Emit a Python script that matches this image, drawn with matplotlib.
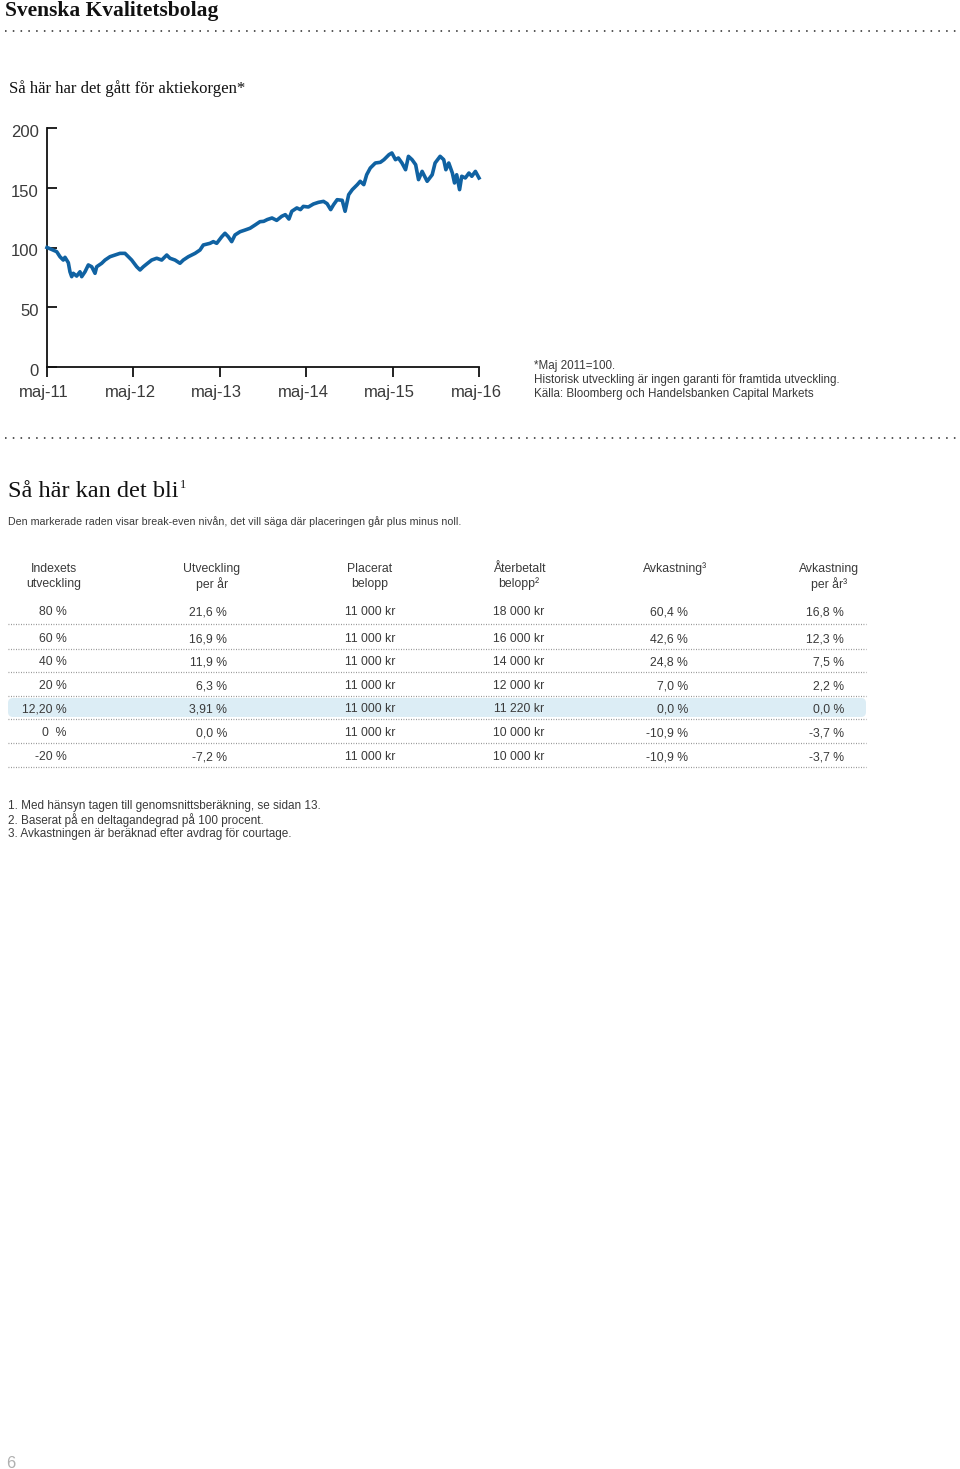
import matplotlib
matplotlib.use("Agg")
import matplotlib.pyplot as plt
from matplotlib.lines import Line2D
from matplotlib.patches import FancyBboxPatch
from matplotlib.transforms import ScaledTranslation

# ---------------- data ----------------
months = [0, 0.6, 1.35, 1.8, 2.26, 2.5, 2.96, 3.19, 3.43, 3.65, 4.12, 4.58, 4.82, 5.28, 5.74,
          6.21, 6.67, 6.9, 7.6, 8.06, 8.75, 9.44, 10.14, 10.83, 11.3, 11.76, 12.46, 12.92,
          13.38, 13.85, 14.54, 15.24, 15.93, 16.63, 17.08, 17.78, 18.47, 18.93, 19.63, 20.56,
          21.25, 21.71, 22.64, 23.1, 23.57, 24.27, 24.72, 25.18, 25.65, 26.11, 26.81, 27.5,
          28.2, 28.89, 29.58, 30.1, 30.6, 31.25, 31.9, 32.6, 33.1, 33.6, 34.0, 34.7, 35.2,
          35.6, 36.3, 37.0, 37.7, 38.4, 38.9, 39.4, 39.8, 40.3, 41.0, 41.4, 41.9, 42.4, 43.1,
          43.5, 44.0, 44.4, 44.9, 45.6, 46.3, 46.8, 47.5, 47.9, 48.4, 48.8, 49.3, 49.8, 50.2,
          50.7, 51.2, 51.6, 52.1, 52.8, 53.5, 53.9, 54.6, 55.1, 55.4, 55.8, 56.3, 56.6, 56.9,
          57.3, 57.6, 58.1, 58.6, 59.0, 59.5, 60.0]
index_values = [100, 98.5, 96.5, 92.3, 89.5, 91.8, 87.3, 79.7, 75.6, 78.4, 76.1, 79.7, 75.6, 79.7,
                85.4, 83.9, 78.4, 83.9, 86.8, 89.5, 92.3, 93.7, 95.1, 95.1, 92.3, 89.5, 83.9,
                81.2, 83.9, 86.2, 89.5, 91.0, 89.5, 93.7, 91.0, 89.5, 86.8, 89.5, 92.3, 95.1,
                97.9, 102.1, 103.5, 104.9, 103.5, 109.0, 111.9, 109.0, 104.9, 110.5, 113.2,
                114.6, 116.1, 118.8, 121.6, 121.9, 123.4, 124.7, 122.7, 126.1, 127.5, 123.8,
                130.3, 133.1, 131.7, 134.4, 133.9, 136.4, 137.8, 138.6, 136.7, 131.7, 135.8,
                140.0, 139.5, 130.3, 144.2, 148.4, 152.6, 155.4, 152.6, 160.9, 166.5, 170.7,
                171.3, 173.5, 177.7, 179.1, 173.5, 174.9, 170.7, 165.1, 176.3, 173.5, 169.3,
                156.8, 163.7, 155.4, 160.9, 170.7, 176.3, 173.5, 165.1, 170.7, 162.3, 154.0,
                160.9, 148.4, 159.6, 158.2, 162.3, 159.6, 163.7, 158.2]

x_tick_pos = [0, 12, 24, 36, 48, 60]
x_tick_labels = ["maj-11", "maj-12", "maj-13", "maj-14", "maj-15", "maj-16"]
y_ticks = [0, 50, 100, 150, 200]

col_headers = [["Indexets", "utveckling"], ["Utveckling", "per år"], ["Placerat", "belopp"],
               ["Återbetalt", "belopp²"], ["Avkastning³", ""], ["Avkastning", "per år³"]]
indexets = ["80 %", "60 %", "40 %", "20 %", "12,20 %", "0  %", "-20 %"]
utv_per_ar = ["21,6 %", "16,9 %", "11,9 %", "6,3 %", "3,91 %", "0,0 %", "-7,2 %"]
placerat = ["11 000 kr", "11 000 kr", "11 000 kr", "11 000 kr", "11 000 kr", "11 000 kr", "11 000 kr"]
aterbetalt = ["18 000 kr", "16 000 kr", "14 000 kr", "12 000 kr", "11 220 kr", "10 000 kr", "10 000 kr"]
avkastning = ["60,4 %", "42,6 %", "24,8 %", "7,0 %", "0,0 %", "-10,9 %", "-10,9 %"]
avk_per_ar = ["16,8 %", "12,3 %", "7,5 %", "2,2 %", "0,0 %", "-3,7 %", "-3,7 %"]
highlight_row = 4

footnotes = ["1. Med hänsyn tagen till genomsnittsberäkning, se sidan 13.",
             "2. Baserat på en deltagandegrad på 100 procent.",
             "3. Avkastningen är beräknad efter avdrag för courtage."]
chart_notes = ["*Maj 2011=100.",
               "Historisk utveckling är ingen garanti för framtida utveckling.",
               "Källa: Bloomberg och Handelsbanken Capital Markets"]

# ---------------- figure ----------------
W, H = 960, 1469
fig = plt.figure(figsize=(W / 100, H / 100), dpi=100)
fig.patch.set_facecolor("white")

page = fig.add_axes([0, 0, 1, 1])
page.set_xlim(0, W)
page.set_ylim(H, 0)
page.axis("off")

SERIF = ["Liberation Serif", "DejaVu Serif"]
SANS = ["Liberation Sans", "DejaVu Sans"]
TXT = "#3a3a3a"
DY = 2  # small vertical nudge for sans text

# titles
page.text(5, 11, "Svenska Kvalitetsbolag", family=SERIF, weight="bold", fontsize=15.5,
          color="#111111", va="center", ha="left")
page.add_line(Line2D([5, 958], [31, 31], color="#555555", lw=1.4, ls=(0, (0.8, 3.2))))
page.text(9, 89, "Så här har det gått för aktiekorgen*", family=SERIF, fontsize=12.1,
          color="#111111", va="center", ha="left")

# chart notes
for i, line in enumerate(chart_notes):
    page.text(534, 364 + 14 * i + DY, line, family=SANS, fontsize=8.4, color=TXT,
              va="center", ha="left")

page.add_line(Line2D([5, 958], [438, 438], color="#555555", lw=1.4, ls=(0, (0.8, 3.2))))

heading = page.text(8, 491, "Så här kan det bli", family=SERIF, fontsize=17.5,
                    color="#111111", va="center", ha="left")
fig.canvas.draw()
hb = heading.get_window_extent(renderer=fig.canvas.get_renderer())
page.text(hb.x1 + 1, 485, "1", family=SERIF, fontsize=9, color="#111111", va="center", ha="left")

page.text(8, 520 + DY, "Den markerade raden visar break-even nivån, det vill säga där placeringen går plus minus noll.",
          family=SANS, fontsize=7.7, color=TXT, va="center", ha="left")

# ---------------- line chart ----------------
ax = fig.add_axes([47 / W, 1 - 367 / H, 432 / W, 239 / H])
ax.plot(months, index_values, color="#1062a2", lw=2.6, solid_joinstyle="round", clip_on=False, zorder=3)
ax.set_xlim(0, 60)
ax.set_ylim(0, 200)
for s in ["top", "right"]:
    ax.spines[s].set_visible(False)
for s in ["left", "bottom"]:
    ax.spines[s].set_linewidth(1.3)
    ax.spines[s].set_color("#111111")
ax.set_xticks(x_tick_pos)
ax.set_xticklabels(x_tick_labels, family=SANS, fontsize=12, color=TXT)
ax.set_yticks(y_ticks)
ax.set_yticklabels([str(v) for v in y_ticks], family=SANS, fontsize=12, color=TXT)
ax.tick_params(axis="x", direction="out", length=7.5, width=1.3, color="#111111", pad=5)
ax.tick_params(axis="y", direction="in", length=7.5, width=1.3, color="#111111", pad=6)
xoff = ScaledTranslation(-3 / 100, -1 / 100, fig.dpi_scale_trans)
for lab in ax.get_xticklabels():
    lab.set_transform(lab.get_transform() + xoff)
yoff = ScaledTranslation(0, -3 / 100, fig.dpi_scale_trans)
for lab in ax.get_yticklabels():
    lab.set_transform(lab.get_transform() + yoff)
ax.patch.set_alpha(0)

# ---------------- table ----------------
col_centers = [54, 212, 370, 519, 675, 829]
col_right = [67, 227, 395, 544, 688, 844]
row_y = [610, 637, 660, 684, 707, 731, 755]
sep_y = [624, 649, 672, 696, 719, 743, 767]
columns = [indexets, utv_per_ar, placerat, aterbetalt, avkastning, avk_per_ar]

hy = row_y[highlight_row]
page.add_patch(FancyBboxPatch((8, hy - 9), 858, 19, boxstyle="round,pad=0,rounding_size=5",
                              fc="#dcedf5", ec="none", zorder=0))

for c, hdr in enumerate(col_headers):
    for k, h in enumerate(hdr):
        if h:
            page.text(col_centers[c], 567 + 15 * k + DY, h, family=SANS, fontsize=8.8, color=TXT,
                      ha="center", va="center")

for c, col in enumerate(columns):
    for r, val in enumerate(col):
        page.text(col_right[c], row_y[r] + DY, val, family=SANS, fontsize=8.8, color=TXT,
                  ha="right", va="center")

for y in sep_y:
    page.add_line(Line2D([8, 866], [y, y], color="#8a8a8a", lw=0.9, ls=(0, (0.7, 1.3))))

for i, fn in enumerate(footnotes):
    page.text(8, 804 + 14 * i + DY, fn, family=SANS, fontsize=8.5, color=TXT, ha="left", va="center")

page.text(6, 1461 + DY, "6", family=SANS, fontsize=12, color="#b0b0b0", ha="left", va="center")

fig.savefig("out.png", dpi=100, facecolor="white")
